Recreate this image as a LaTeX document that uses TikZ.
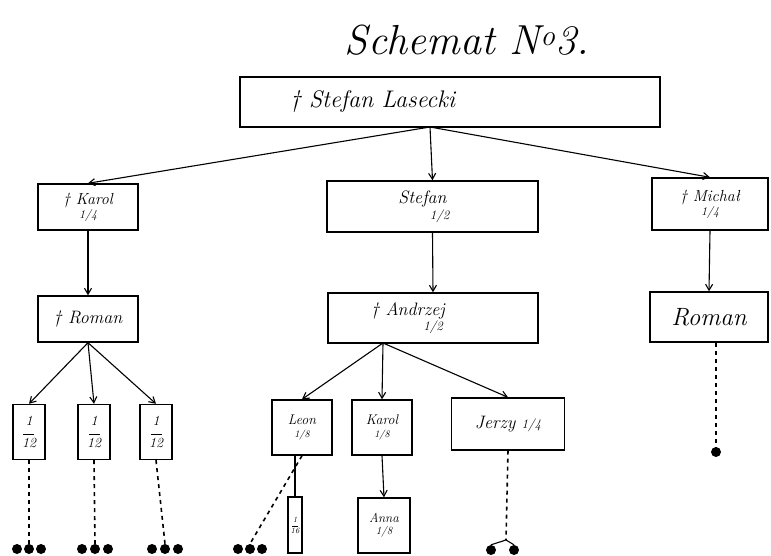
\documentclass[tikz,border=0pt]{standalone}
\usetikzlibrary{arrows.meta}
\begin{document}
\begin{tikzpicture}[x=1pt,y=-1pt,
  box/.style={draw, line width=1.4pt, inner sep=0pt, align=center, font=\itshape},
  arr/.style={line width=1.1pt, -{Straight Barb[length=6pt,width=7pt]}},
  ln/.style={line width=1.1pt},
  dsh/.style={line width=1.6pt, dash pattern=on 4pt off 4pt},
  dot/.style={circle, fill, inner sep=0pt, minimum size=10pt},
  fr/.style={font=\fontsize{14}{14}\selectfont\itshape}]
\useasboundingbox (0,0) rectangle (771,556);
\fill[white] (0,0) rectangle (771,556);
% title
\node[font=\fontsize{42}{46}\selectfont\itshape] (title) at (467,40) {Schemat N\textsuperscript{o}3.};
% level 1
\node[box, minimum width=420pt, minimum height=50pt, font=\fontsize{24}{28}\selectfont\itshape] (top) at (450,102) {\hspace*{-200pt}\makebox[0pt][l]{\hspace*{40pt}† Stefan Lasecki}\hspace*{200pt}};
\coordinate (ts) at (430,127);
% level 2
\node[box, minimum width=100pt, minimum height=46pt, font=\fontsize{16}{16}\selectfont\itshape] (karol) at (88,207) {† Karol\\[-2pt]{\fontsize{12}{12}\selectfont 1/4}};
\node[box, minimum width=211pt, minimum height=51pt, font=\fontsize{18}{18}\selectfont\itshape] (stefan) at (432.5,206.5) {\hspace*{-20pt}Stefan\\[-2pt]\hspace*{14pt}{\fontsize{13}{13}\selectfont 1/2}};
\node[box, minimum width=116pt, minimum height=52pt, font=\fontsize{16}{16}\selectfont\itshape] (michal) at (710,204) {† Michał\\[-2pt]{\fontsize{12}{12}\selectfont 1/4}};
% level 3
\node[box, minimum width=100pt, minimum height=46pt, font=\fontsize{18}{18}\selectfont\itshape] (romanl) at (88,319) {† Roman};
\node[box, minimum width=210pt, minimum height=50pt, font=\fontsize{18}{18}\selectfont\itshape] (andrzej) at (433,318) {\hspace*{-50pt}† Andrzej\\[-3pt]{\fontsize{13}{13}\selectfont 1/2}};
\node[box, minimum width=118pt, minimum height=50pt, font=\fontsize{25}{25}\selectfont\itshape] (romanr) at (709,317) {Roman};
% level 4
\node[box, minimum width=32pt, minimum height=55pt, fr] (a1) at (29,432) {1\\[-5pt]\rule{11pt}{0.9pt}\\[-1pt]12};
\node[box, minimum width=32pt, minimum height=55pt, fr] (a2) at (94,432) {1\\[-5pt]\rule{11pt}{0.9pt}\\[-1pt]12};
\node[box, minimum width=32pt, minimum height=55pt, fr] (a3) at (156,432) {1\\[-5pt]\rule{11pt}{0.9pt}\\[-1pt]12};
\node[box, minimum width=60pt, minimum height=55pt, font=\fontsize{14}{14}\selectfont\itshape] (leon) at (302,427.5) {Leon\\[-1pt]{\fontsize{10}{10}\selectfont 1/8}};
\node[box, minimum width=60pt, minimum height=55pt, font=\fontsize{14}{14}\selectfont\itshape] (karol2) at (382,427.5) {Karol\\[-1pt]{\fontsize{10}{10}\selectfont 1/8}};
\node[box, minimum width=113pt, minimum height=52pt, font=\fontsize{18}{18}\selectfont\itshape] (jerzy) at (508,424) {Jerzy {\fontsize{13}{13}\selectfont 1/4}};
\coordinate (as) at (383,343);
% level 5
\node[box, minimum width=14pt, minimum height=56pt, font=\fontsize{8}{8}\selectfont\itshape] (leonc) at (295,525) {1\\[-3pt]\rule{6pt}{0.6pt}\\[-2pt]16};
\node[box, minimum width=52pt, minimum height=55pt, font=\fontsize{13}{13}\selectfont\itshape] (anna) at (384,525.5) {Anna\\[-1pt]{\fontsize{11}{11}\selectfont 1/8}};
% dots
\node[dot] (d11) at (17,549) {};
\node[dot] (d12) at (29,549) {};
\node[dot] (d13) at (41,549) {};
\node[dot] (d21) at (82,549) {};
\node[dot] (d22) at (95,549) {};
\node[dot] (d23) at (108,549) {};
\node[dot] (d31) at (152,549) {};
\node[dot] (d32) at (165,549) {};
\node[dot] (d33) at (178,549) {};
\node[dot] (d41) at (238,549) {};
\node[dot] (d42) at (250,549) {};
\node[dot] (d43) at (262,549) {};
\node[dot] (d51) at (491,550) {};
\node[dot] (d52) at (514,550) {};
\node[dot] (dr) at (716,452) {};
\coordinate (jd) at (506,540);
% connectors
\draw[arr] (ts) -- (karol.north);
\draw[arr] (ts) -- (stefan.north);
\draw[arr] (ts) -- (michal.north);
\draw[arr] (karol.south) -- (romanl.north);
\draw[arr] (stefan.south) -- (andrzej.north);
\draw[arr] (michal.south) -- (romanr.north);
\draw[arr] (romanl.south) -- (a1.north);
\draw[arr] (romanl.south) -- (a2.north);
\draw[arr] (romanl.south) -- (a3.north);
\draw[arr] (as) -- (leon.north);
\draw[arr] (as) -- (karol2.north);
\draw[arr] (as) -- (jerzy.north);
\draw[arr] (karol2.south) -- (anna.north);
\draw[ln] (leonc.north |- leon.south) -- (leonc.north);
\draw[dsh] (a1.south) -- (d12.north);
\draw[dsh] (a2.south) -- (d22.north);
\draw[dsh] (a3.south) -- (d32.north);
\draw[dsh] (leon.south) -- (d42.north);
\draw[dsh] (jerzy.south) -- (jd);
\draw[ln] (jd) -- (d51.north);
\draw[ln] (jd) -- (d52.north);
\draw[dsh] (romanr.south -| dr) -- (dr.north);
\end{tikzpicture}
\end{document}
